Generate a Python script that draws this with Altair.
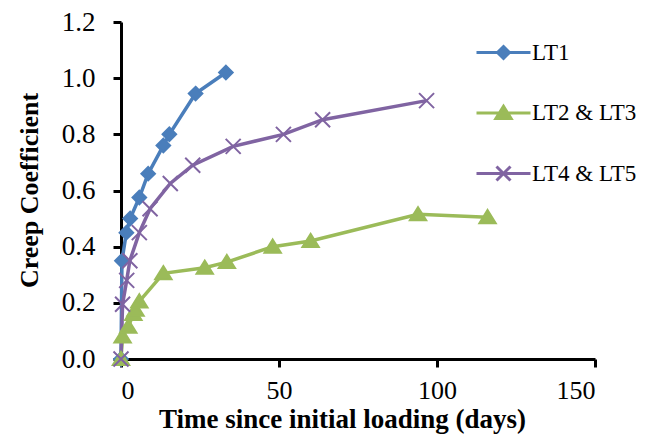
import altair as alt
import pandas as pd

series_names = ["LT1", "LT2 & LT3", "LT4 & LT5"]
series_colors = ["#4A7EBB", "#9BBB59", "#8064A2"]

lt1_days = [0, 0.3, 1.7, 2.9, 5.8, 8.6, 13.4, 15.3, 23.6, 33.2]
lt1_vals = [0, 0.35, 0.45, 0.50, 0.575, 0.66, 0.76, 0.80, 0.945, 1.02]

lt23_days = [0, 0.5, 2.3, 3.9, 4.6, 5.8, 13.4, 26.5, 33.5, 48.0, 60.0, 94.0, 116.0]
lt23_vals = [0, 0.08, 0.115, 0.16, 0.175, 0.205, 0.305, 0.325, 0.345, 0.40, 0.42, 0.515, 0.505]

lt45_days = [0, 0.5, 1.8, 2.8, 5.8, 9.2, 15.6, 22.7, 35.5, 51.4, 63.8, 96.7]
lt45_vals = [0, 0.195, 0.28, 0.35, 0.45, 0.535, 0.625, 0.69, 0.757, 0.80, 0.852, 0.92]

x_ticks = [0, 50, 100, 150]
y_ticks = [0, 0.2, 0.4, 0.6, 0.8, 1.0, 1.2]

rows = []
for name, days, vals in zip(series_names, [lt1_days, lt23_days, lt45_days],
                            [lt1_vals, lt23_vals, lt45_vals]):
    for d, v in zip(days, vals):
        rows.append({"series": name, "day": d, "value": v})
df = pd.DataFrame(rows)

# marker shapes (unit square paths)
diamond = "M0,-0.68L0.68,0L0,0.68L-0.68,0Z"
triangle = "M0,-0.72L0.82,0.6L-0.82,0.6Z"
cross = "M-0.75,-0.75L0.75,0.75M-0.75,0.75L0.75,-0.75"
marker_paths = [diamond, triangle, cross]
# legend symbols: short line with marker
legend_paths = ["M-2.7,0H2.7" + p for p in [
    "M0,-0.6L0.6,0L0,0.6L-0.6,0Z",
    "M0,-0.66L0.76,0.56L-0.76,0.56Z",
    "M-0.7,-0.7L0.7,0.7M-0.7,0.7L0.7,-0.7"]]

FONT = "Liberation Serif, Times New Roman, serif"

x_enc = alt.X("day:Q", scale=alt.Scale(domain=[0, 150], nice=False),
              axis=alt.Axis(values=x_ticks, title="Time since initial loading (days)",
                            titleX=221, titleY=68, titleBaseline="alphabetic",
                            titleAlign="center", labelPadding=10, labelFontSize=26,
                            titleFontSize=27))
y_enc = alt.Y("value:Q", scale=alt.Scale(domain=[0, 1.2], nice=False),
              axis=alt.Axis(values=y_ticks, format=".1f", title="Creep Coefficient",
                            titleX=-84, titleY=168, titleAngle=-90,
                            titleBaseline="alphabetic", titleAlign="center",
                            labelPadding=18))

lines = alt.Chart(df).mark_line(strokeWidth=3.5).encode(
    x=x_enc, y=y_enc,
    color=alt.Color("series:N", scale=alt.Scale(domain=series_names, range=series_colors),
                    legend=None),
)

points = alt.Chart(df).mark_point(size=400, strokeWidth=2, opacity=1).encode(
    x=x_enc, y=y_enc,
    shape=alt.Shape("series:N", scale=alt.Scale(domain=series_names, range=marker_paths),
                    legend=None),
    fill=alt.Fill("series:N", scale=alt.Scale(domain=series_names, range=series_colors),
                  legend=None),
    stroke=alt.Stroke("series:N", scale=alt.Scale(domain=series_names, range=series_colors),
                      legend=None),
)

leg = alt.Legend(orient="none", legendX=371, legendY=19, title=None,
                 labelFont=FONT, labelFontSize=23, labelColor="black",
                 symbolSize=400, symbolStrokeWidth=3, labelOffset=17,
                 rowPadding=34.5, padding=0, labelLimit=300, symbolOpacity=1)

legend_layer = alt.Chart(df).transform_filter("datum.value > 10").mark_point(
    size=400, strokeWidth=3, opacity=1).encode(
    x=x_enc, y=y_enc,
    shape=alt.Shape("series:N", scale=alt.Scale(domain=series_names, range=legend_paths),
                    legend=leg),
    fill=alt.Fill("series:N", scale=alt.Scale(domain=series_names, range=series_colors),
                  legend=leg),
    stroke=alt.Stroke("series:N", scale=alt.Scale(domain=series_names, range=series_colors),
                      legend=leg),
)

chart = alt.layer(lines, points, legend_layer).resolve_scale(
    shape="independent", fill="independent", stroke="independent"
).properties(
    width=474, height=337,
    autosize=alt.AutoSizeParams(type="none"),
    padding={"left": 113, "top": 14, "right": 46, "bottom": 75},
).configure_view(stroke=None).configure_axis(
    labelFont=FONT, labelFontSize=27, labelColor="black",
    titleFont=FONT, titleFontSize=26, titleFontWeight="bold", titleColor="black",
    domainColor="black", domainWidth=3, tickColor="black", tickWidth=3, tickSize=8,
    grid=False, zindex=0,
)

chart.save("out.html", embed_options={"renderer": "svg", "actions": False})
